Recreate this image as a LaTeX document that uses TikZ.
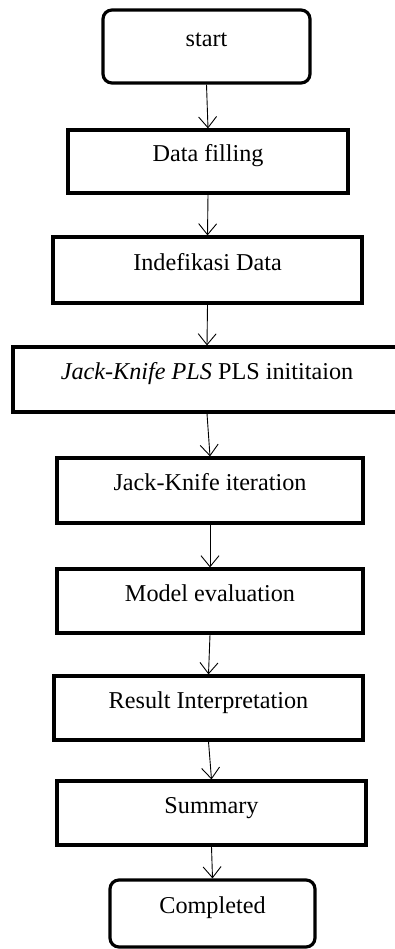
\documentclass[tikz,border=0pt]{standalone}
\usepackage{fontspec}
\setmainfont{Liberation Serif}
\usetikzlibrary{arrows.meta}
\begin{document}
\begin{tikzpicture}[x=1pt,y=-1pt,
  box/.style={draw,line width=3.2pt,minimum height=64pt,inner sep=0pt,
    text height=16pt,text depth=16pt,font=\fontsize{24.2}{28}\selectfont},
  term/.style={box,rounded corners=9pt},
  flow/.style={line width=0.9pt,-{Straight Barb[length=11pt,width=18pt]}}]
\useasboundingbox (0,0) rectangle (395,949);
\clip (0,0) rectangle (395,949);
\node[term,minimum width=207pt,minimum height=73pt] (start) at (206.5,46.5) {start};
\node[box,minimum width=280pt,minimum height=63pt] (fill) at (208,161.5) {Data filling};
\node[box,minimum width=309pt,minimum height=66pt] (ident) at (207.5,270) {Indefikasi Data};
\node[box,minimum width=388pt,minimum height=65pt] (init) at (207,379.5) {\textit{Jack-Knife PLS} PLS inititaion};
\node[box,minimum width=306pt,minimum height=65pt] (iter) at (210,490.5) {Jack-Knife iteration};
\node[box,minimum width=306pt] (eval) at (210,601) {Model evaluation};
\node[box,minimum width=309pt] (interp) at (208.5,708) {Result Interpretation};
\node[box,minimum width=309pt] (summ) at (211.5,813) {Summary};
\node[term,minimum width=205pt,minimum height=67pt] (done) at (212.5,913.5) {Completed};
\foreach \a/\b in {start/fill,fill/ident,ident/init,init/iter,iter/eval,eval/interp,interp/summ,summ/done}
  \draw[flow] (\a.south) -- (\b.north);
\end{tikzpicture}
\end{document}
